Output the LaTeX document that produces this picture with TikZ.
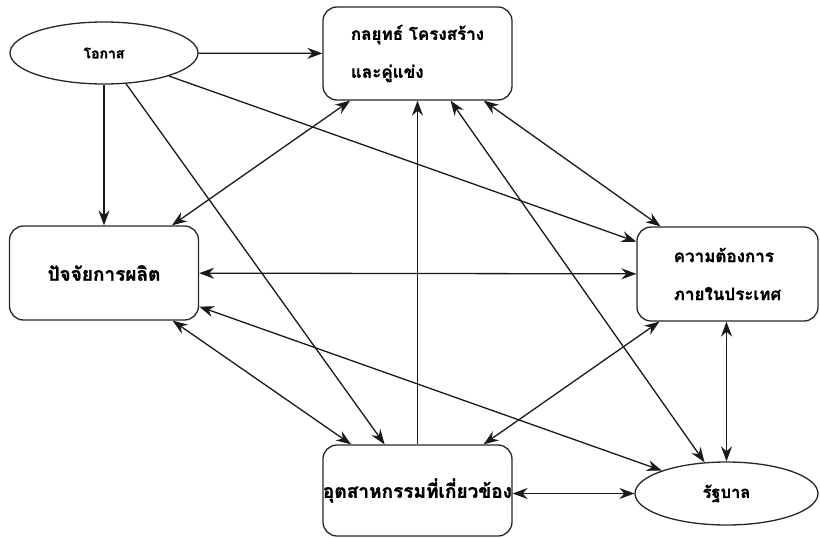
\documentclass[tikz,border=0pt]{standalone}
\usepackage{fontspec}
\newfontfamily\thaifont[Script=Thai,BoldFeatures={FakeBold=1.2}]{Loma}
\usetikzlibrary{arrows.meta,shapes.geometric}
\tikzset{
  box/.style={draw=black!85,line width=1.3pt,rounded corners=14pt,
    minimum width=189pt,minimum height=93pt,inner sep=0pt,align=left,
    font=\thaifont\bfseries\fontsize{19}{38}\selectfont},
  twoline/.style={font=\thaifont\bfseries\fontsize{17}{38}\selectfont},
  oval/.style={draw=black!85,line width=1.3pt,ellipse,inner sep=0pt,
    font=\thaifont\bfseries\fontsize{16.5}{20}\selectfont},
  link/.style={draw=black!90,line width=1.3pt,->},
  both/.style={link,<->}
}
\begin{document}
\begin{tikzpicture}[x=1pt,y=-1pt,>={Stealth[length=15pt,width=11pt,inset=5pt]}]
\useasboundingbox (0,0) rectangle (820,538);
% the six factors
\node[oval,minimum width=188pt,minimum height=62pt,
  font=\thaifont\bfseries\fontsize{14}{16}\selectfont] (opp) at (104,53) {โอกาส};
\node[box,twoline] (strat) at (417.5,53.5) {กลยุทธ์ โครงสร้าง\\และคู่แข่ง};
\node[box,minimum height=94pt] (factor) at (104,273) {ปัจจัยการผลิต};
\node[box,twoline,minimum width=181pt,minimum height=94pt] (demand) at (727.5,274) {ความต้องการ\\ภายในประเทศ};
\node[box,minimum height=91pt] (indus) at (417.5,490.5) {อุตสาหกรรมที่เกี่ยวข้อง};
\node[oval,minimum width=183pt,minimum height=63pt] (gov) at (726.5,493.5) {รัฐบาล};
% one-way links
\draw[link] (opp) -- (strat);
\draw[link] (opp) -- (factor);
\draw[link] (opp) -- (indus);
\draw[link] (opp) -- (demand);
\draw[link] (indus) -- (strat);
% two-way links
\draw[both] (strat) -- (factor);
\draw[both] (strat) -- (gov);
\draw[both] (strat) -- (demand);
\draw[both] (factor) -- (demand);
\draw[both] (factor) -- (indus);
\draw[both] (factor) -- (gov);
\draw[both] (indus) -- (demand);
\draw[both] (indus.east |- gov.west) -- (gov.west);
\draw[both] (demand.south -| gov.north) -- (gov.north);
\end{tikzpicture}
\end{document}
